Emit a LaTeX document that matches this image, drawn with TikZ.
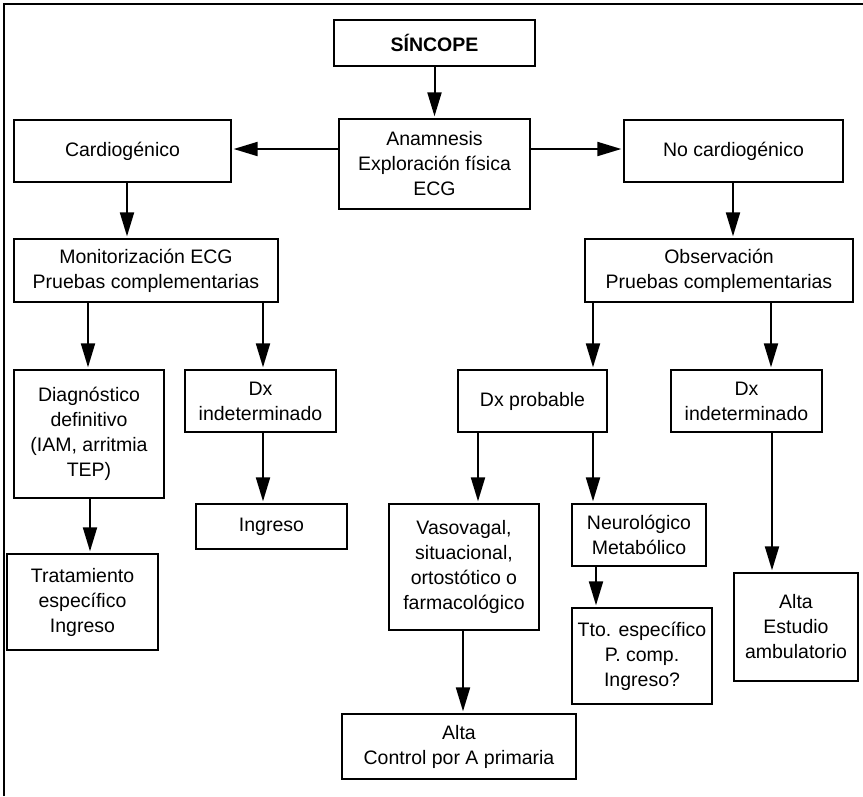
\documentclass[tikz,border=0pt]{standalone}
\usepackage{fontspec}
\setmainfont{Liberation Sans}
\usetikzlibrary{arrows.meta}
\begin{document}
\begin{tikzpicture}[x=1pt,y=-1pt,
  box/.style={draw=black,line width=1.3pt,inner sep=0pt,align=center,
    font=\fontsize{19.5}{25}\selectfont},
  arr/.style={line width=2pt,-{Triangle[length=24pt,width=14pt]},shorten >=2pt}]
\useasboundingbox (0,0) rectangle (863,796);
\fill[white] (0,0) rectangle (863,796);
\draw[line width=1.5pt] (4,796) -- (4,4) -- (863,4);
% nodes
\node[box,minimum width=201pt,minimum height=46pt] (sin) at (434.5,43) {\textbf{SÍNCOPE}};
\node[box,minimum width=191pt,minimum height=90pt] (ana) at (434.5,164) {Anamnesis\\Exploración física\\ECG};
\node[box,minimum width=217pt,minimum height=62pt] (card) at (122.5,151) {Cardiogénico};
\node[box,minimum width=219pt,minimum height=62pt] (nocard) at (733.5,151) {No cardiogénico};
\node[box,minimum width=264pt,minimum height=63pt] (mon) at (146,270.5) {Monitorización ECG\\Pruebas complementarias};
\node[box,minimum width=268pt,minimum height=63pt] (obs) at (719,270.5) {Observación\\Pruebas complementarias};
\node[box,minimum width=150pt,minimum height=128pt] (diag) at (89,434) {Diagnóstico\\definitivo\\(IAM, arritmia\\TEP)};
\node[box,minimum width=151pt,minimum height=62pt] (dxil) at (260.5,401) {Dx\\indeterminado};
\node[box,minimum width=149pt,minimum height=62pt] (dxp) at (532.5,401) {Dx probable};
\node[box,minimum width=151pt,minimum height=62pt] (dxir) at (746.5,401) {Dx\\indeterminado};
\node[box,minimum width=151pt,minimum height=45pt] (ing) at (271.5,526.5) {Ingreso};
\node[box,minimum width=151pt,minimum height=96pt] (trat) at (82.5,602) {Tratamiento\\específico\\Ingreso};
\node[box,minimum width=150pt,minimum height=126pt] (vaso) at (464,567) {Vasovagal,\\situacional,\\ortostótico o\\farmacológico};
\node[box,minimum width=134pt,minimum height=62pt] (neuro) at (639,535) {Neurológico\\Metabólico};
\node[box,minimum width=140pt,minimum height=96pt] (tto) at (642,656) {Tto. específico\\P. comp.\\Ingreso?};
\node[box,minimum width=124pt,minimum height=108pt] (altae) at (796,627) {Alta\\Estudio\\ambulatorio};
\node[box,minimum width=234pt,minimum height=65pt] (altac) at (459,746.5) {Alta\\Control por A primaria};
% arrow positions
\coordinate (yh) at (0,149);
\coordinate (x127) at (127,0);
\coordinate (x733) at (733,0);
\coordinate (x88) at (88,0);
\coordinate (x263) at (263,0);
\coordinate (x593) at (593,0);
\coordinate (x771) at (771,0);
\coordinate (x90) at (90,0);
\coordinate (x478) at (478,0);
\coordinate (x772) at (772,0);
\coordinate (x463) at (463,0);
\coordinate (x596) at (596,0);
% arrows
\draw[arr] (sin.south) -- (ana.north);
\draw[arr] (ana.west |- yh) -- (card.east |- yh);
\draw[arr] (ana.east |- yh) -- (nocard.west |- yh);
\draw[arr] (card.south -| x127) -- (mon.north -| x127);
\draw[arr] (nocard.south -| x733) -- (obs.north -| x733);
\draw[arr] (mon.south -| x88) -- (diag.north -| x88);
\draw[arr] (mon.south -| x263) -- (dxil.north -| x263);
\draw[arr] (obs.south -| x593) -- (dxp.north -| x593);
\draw[arr] (obs.south -| x771) -- (dxir.north -| x771);
\draw[arr] (diag.south -| x90) -- (trat.north -| x90);
\draw[arr] (dxil.south -| x263) -- (ing.north -| x263);
\draw[arr] (dxp.south -| x478) -- (vaso.north -| x478);
\draw[arr] (dxp.south -| x593) -- (neuro.north -| x593);
\draw[arr] (dxir.south -| x772) -- (altae.north -| x772);
\draw[arr] (vaso.south -| x463) -- (altac.north -| x463);
\draw[arr] (neuro.south -| x596) -- (tto.north -| x596);
\end{tikzpicture}
\end{document}
